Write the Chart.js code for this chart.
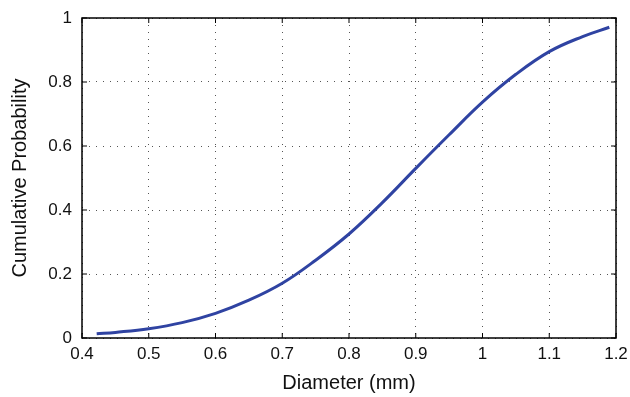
<!DOCTYPE html>
<html>
<head>
<meta charset="utf-8">
<script src="https://cdn.jsdelivr.net/npm/chart.js@4/dist/chart.umd.min.js"></script>
<style>
  body { margin: 0; background: #fff; }
  canvas { display: block; }
</style>
</head>
<body>
<canvas id="cdf" width="630" height="397"></canvas>
<script>
// diameter (mm) and cumulative probability
const diameters = [0.422, 0.45, 0.5, 0.55, 0.6, 0.65, 0.7, 0.75, 0.8, 0.85, 0.9, 0.95, 1.0, 1.05, 1.1, 1.15, 1.19];
const cumProb = [0.013, 0.0175, 0.029, 0.048, 0.077, 0.118, 0.171, 0.243, 0.325, 0.423, 0.53, 0.635, 0.737, 0.824, 0.895, 0.942, 0.971];

const xTitle = "Diameter (mm)";
const yTitle = "Cumulative Probability";

const FONT = "'Liberation Sans', Arial, sans-serif";

// matlab style box with inward ticks on all four sides
const boxPlugin = {
  id: "box",
  afterDatasetsDraw(chart) {
    const { ctx, chartArea: a, scales } = chart;
    ctx.save();
    ctx.strokeStyle = "#000";
    ctx.lineWidth = 1.5;
    ctx.setLineDash([]);
    ctx.strokeRect(a.left, a.top, a.right - a.left, a.bottom - a.top);
    ctx.lineWidth = 1;
    const tl = 5;
    scales.x.ticks.forEach((t) => {
      const px = scales.x.getPixelForValue(t.value);
      ctx.beginPath();
      ctx.moveTo(px, a.bottom); ctx.lineTo(px, a.bottom - tl);
      ctx.moveTo(px, a.top); ctx.lineTo(px, a.top + tl);
      ctx.stroke();
    });
    scales.y.ticks.forEach((t) => {
      const py = scales.y.getPixelForValue(t.value);
      ctx.beginPath();
      ctx.moveTo(a.left, py); ctx.lineTo(a.left + tl, py);
      ctx.moveTo(a.right, py); ctx.lineTo(a.right - tl, py);
      ctx.stroke();
    });
    ctx.restore();
  },
};

const points = diameters.map((d, i) => ({ x: d, y: cumProb[i] }));

new Chart(document.getElementById("cdf"), {
  type: "line",
  data: {
    datasets: [
      {
        data: points,
        borderColor: "#2f43a2",
        borderWidth: 3,
        pointRadius: 0,
        tension: 0.4,
        fill: false,
      },
    ],
  },
  options: {
    responsive: false,
    animation: false,
    layout: { padding: { top: 18, right: 14, left: 0, bottom: 0 } },
    plugins: {
      legend: { display: false },
      tooltip: { enabled: false },
    },
    scales: {
      x: {
        type: "linear",
        min: 0.4,
        max: 1.2,
        afterFit: (s) => {
          s.height = 59;
          s.paddingLeft = 0;
          s.paddingRight = 0;
        },
        ticks: {
          stepSize: 0.1,
          padding: 6,
          color: "#111",
          font: { family: FONT, size: 17 },
          callback: (v) => String(Math.round(v * 10) / 10),
        },
        grid: { color: "#555", lineWidth: 1, drawTicks: false },
        border: { display: false, dash: [1, 6] },
        title: {
          display: true,
          text: xTitle,
          color: "#111",
          font: { family: FONT, size: 20 },
          padding: { top: 0, bottom: 2 },
        },
      },
      y: {
        min: 0,
        max: 1,
        afterFit: (s) => {
          s.width = 82;
          s.paddingTop = 0;
          s.paddingBottom = 0;
        },
        ticks: {
          stepSize: 0.2,
          padding: 10,
          color: "#111",
          font: { family: FONT, size: 17 },
          callback: (v) => String(Math.round(v * 10) / 10),
        },
        grid: { color: "#555", lineWidth: 1, drawTicks: false },
        border: { display: false, dash: [1, 6] },
        title: {
          display: true,
          text: yTitle,
          color: "#111",
          font: { family: FONT, size: 20 },
          padding: { top: 8, bottom: 0 },
        },
      },
    },
  },
  plugins: [boxPlugin],
});
</script>
</body>
</html>
